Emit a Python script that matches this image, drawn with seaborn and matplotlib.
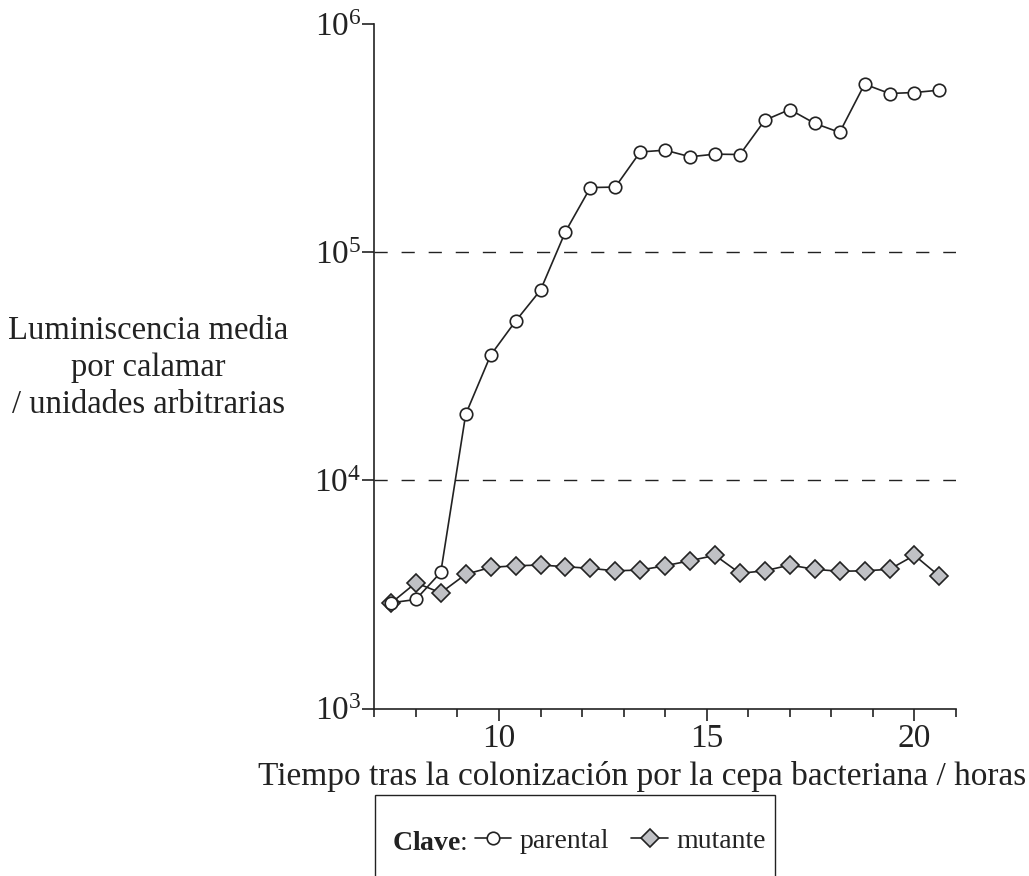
import matplotlib
matplotlib.use("Agg")
import matplotlib.pyplot as plt
import seaborn as sns
import pandas as pd
from matplotlib.patches import Rectangle
from matplotlib.ticker import MultipleLocator, NullLocator

# --- data ---
horas = [7.4, 8.0, 8.6, 9.2, 9.8, 10.4, 11.0, 11.6, 12.2, 12.8, 13.4, 14.0,
         14.6, 15.2, 15.8, 16.4, 17.0, 17.6, 18.2, 18.8, 19.4, 20.0, 20.6]
parental = [2.91e3, 3.01e3, 3.96e3, 1.95e4, 3.54e4, 4.99e4, 6.82e4, 1.23e5,
            1.92e5, 1.93e5, 2.75e5, 2.80e5, 2.62e5, 2.69e5, 2.68e5, 3.79e5,
            4.22e5, 3.67e5, 3.35e5, 5.45e5, 4.96e5, 5.01e5, 5.13e5]
mutante = [2.90e3, 3.56e3, 3.22e3, 3.88e3, 4.16e3, 4.23e3, 4.26e3, 4.19e3,
           4.12e3, 4.02e3, 4.05e3, 4.23e3, 4.45e3, 4.70e3, 3.92e3, 4.02e3,
           4.26e3, 4.08e3, 4.00e3, 4.02e3, 4.08e3, 4.70e3, 3.81e3]
y_ticks = [1e3, 1e4, 1e5, 1e6]
y_labels = [r"$10^{3}$", r"$10^{4}$", r"$10^{5}$", r"$10^{6}$"]
x_ticks = [10, 15, 20]
gridlines = [1e4, 1e5]

df = pd.DataFrame({"horas": horas, "parental": parental, "mutante": mutante})

sns.set_theme(style="white")
plt.rcParams["font.family"] = ["Liberation Serif", "DejaVu Serif"]
plt.rcParams["mathtext.fontset"] = "custom"
plt.rcParams["mathtext.rm"] = "Liberation Serif"
plt.rcParams["mathtext.it"] = "Liberation Serif:italic"
plt.rcParams["mathtext.bf"] = "Liberation Serif:bold"

INK = "#222222"
W, H = 1029, 876
fig = plt.figure(figsize=(W / 100, H / 100), dpi=100)
ax = fig.add_axes([374.3 / W, 1 - 708.7 / H, (956 - 374.3) / W, (708.7 - 24) / H])

for g in gridlines:
    ax.axhline(g, color=INK, lw=1.0, linestyle=(0, (9.5, 10)), zorder=1)

sns.lineplot(data=df, x="horas", y="mutante", ax=ax, color=INK, lw=1.2,
             marker="D", markersize=9, markerfacecolor="#c0c1c5",
             markeredgecolor=INK, markeredgewidth=1.2, label="mutante",
             legend=False, zorder=3)
sns.lineplot(data=df, x="horas", y="parental", ax=ax, color=INK, lw=1.2,
             marker="o", markersize=9, markerfacecolor="white",
             markeredgecolor=INK, markeredgewidth=1.2, label="parental",
             legend=False, zorder=4)

ax.set_yscale("log")
ax.set_ylim(1e3, 1e6)
ax.set_xlim(7, 21)
ax.set_yticks(y_ticks)
ax.set_yticklabels(y_labels)
ax.yaxis.set_minor_locator(NullLocator())
ax.set_xticks(x_ticks)
ax.set_xticklabels([str(t) for t in x_ticks])
ax.xaxis.set_minor_locator(MultipleLocator(1))

for s in ["top", "right"]:
    ax.spines[s].set_visible(False)
for s in ["left", "bottom"]:
    ax.spines[s].set_color(INK)
    ax.spines[s].set_linewidth(1.2)

ax.tick_params(axis="both", which="both", direction="out", color=INK,
               width=1.2, labelsize=24, labelcolor=INK, left=True, bottom=True)
ax.tick_params(axis="x", which="major", length=8.6, pad=2)
ax.tick_params(axis="x", which="minor", length=5.8)
ax.tick_params(axis="y", which="major", length=8.4, pad=1)
ax.set_xlabel("")
ax.set_ylabel("")

fig.text(148 / W, 1 - 368 / H,
         "Luminiscencia media\npor calamar\n/ unidades arbitrarias",
         ha="center", va="center", fontsize=23.5, color=INK, linespacing=1.27)
fig.text(642 / W, 1 - 776 / H,
         "Tiempo tras la colonización por la cepa bacteriana / horas",
         ha="center", va="center", fontsize=24, color=INK)

# key: "Clave:" then the legend right after it, box sized to fit
KEY_FS = 20
key_y = 1 - 843 / H
clave = fig.text(392 / W, key_y, r"$\mathbf{Clave}$:", ha="left", va="center",
                 fontsize=KEY_FS, color=INK)
r = fig.canvas.get_renderer()
cb = clave.get_window_extent(r)
handles = [ax.lines[-1], ax.lines[-2]]
leg = fig.legend(handles, ["parental", "mutante"], loc="center left",
                 bbox_to_anchor=((cb.x1 + 8) / W, key_y + 2 / H), ncol=2,
                 frameon=False, fontsize=KEY_FS, handlelength=1.3,
                 handletextpad=0.3, columnspacing=0.8, numpoints=1,
                 borderpad=0, borderaxespad=0, labelcolor=INK)
lb = leg.get_window_extent(r)
right = lb.x1 + 10
fig.patches.append(Rectangle((375 / W, -0.05), (right - 375) / W, 0.05 + 1 - 795 / H,
                             transform=fig.transFigure, fill=False,
                             edgecolor=INK, lw=1.0))

fig.savefig("out.png", dpi=100)
